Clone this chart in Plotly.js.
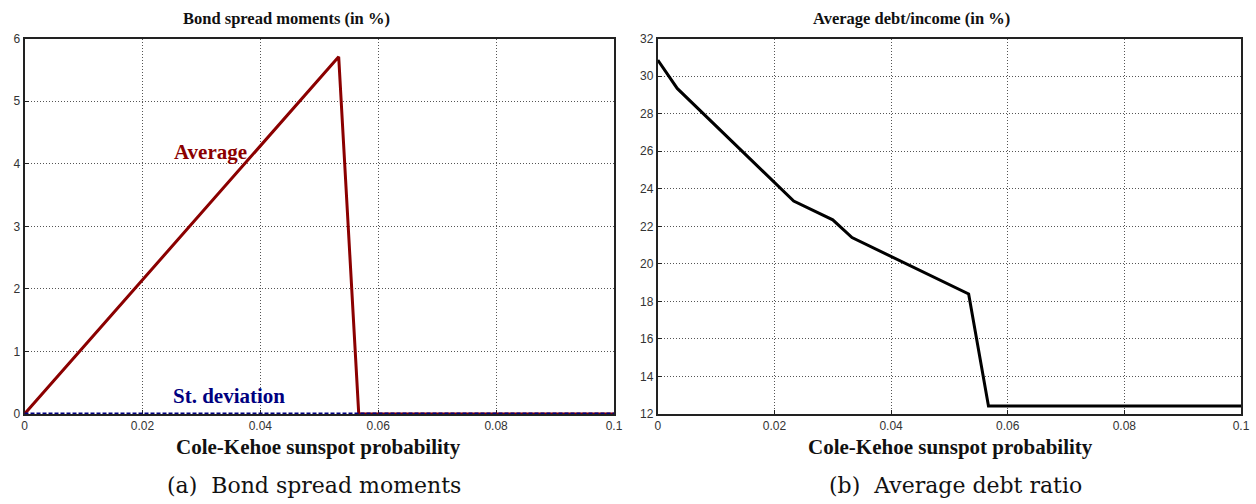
<!DOCTYPE html>
<html><head><meta charset="utf-8">
<script src="https://cdn.plot.ly/plotly-3.0.1.min.js"></script>
<style>html,body{margin:0;padding:0;background:#fff}#chart{width:1256px;height:504px}</style>
</head><body><div id="chart"></div>
<script>
// Panel (a): bond spread moments (in %)
const spreadX = [0, 0.0533, 0.0567, 0.1];
const spreadAvg = [0, 5.71, 0, 0];
const stdevX = [0, 0.1];
const spreadStd = [0, 0];
// Panel (b): average debt/income (in %)
const debtX = [0, 0.00333, 0.0233, 0.03, 0.0333, 0.0533, 0.0567, 0.1];
const debtAvg = [30.86, 29.35, 23.35, 22.35, 21.4, 18.4, 12.43, 12.43];
const xTicks = [0, 0.02, 0.04, 0.06, 0.08, 0.1];
const xTickText = ['0', '0.02', '0.04', '0.06', '0.08', '0.1'];
const yTicksA = [0, 1, 2, 3, 4, 5, 6];
const yTicksB = [12, 14, 16, 18, 20, 22, 24, 26, 28, 30, 32];

const serif = 'Liberation Serif, Times New Roman, serif';
const sans = 'Liberation Sans, Arial, sans-serif';

const traces = [
  {x: spreadX, y: spreadAvg, xaxis: 'x', yaxis: 'y', mode: 'lines', cliponaxis: false, line: {color: '#8b0000', width: 3}, hoverinfo: 'skip'},
  {x: stdevX, y: spreadStd, xaxis: 'x', yaxis: 'y', mode: 'lines', cliponaxis: false, line: {color: '#000080', width: 3, dash: '4px,2px'}, hoverinfo: 'skip'},
  {x: debtX, y: debtAvg, xaxis: 'x2', yaxis: 'y2', mode: 'lines', cliponaxis: false, line: {color: '#000', width: 3}, hoverinfo: 'skip'}
];

function xax(domain, anchor) {
  return {domain: domain, anchor: anchor, range: [0, 0.1], tickvals: xTicks, ticktext: xTickText,
    showgrid: true, gridcolor: '#555', griddash: '1px,2px', gridwidth: 1,
    showline: true, linecolor: '#222', linewidth: 2, mirror: true, zeroline: false,
    ticks: 'inside', ticklen: 4, tickcolor: '#222', layer: 'below traces',
    tickfont: {family: sans, size: 12, color: '#333'}, automargin: false};
}
function yax(domain, anchor, range, vals) {
  return {domain: domain, anchor: anchor, range: range, tickvals: vals,
    showgrid: true, gridcolor: '#555', griddash: '1px,2px', gridwidth: 1,
    showline: true, linecolor: '#222', linewidth: 2, mirror: true, zeroline: false,
    ticks: 'inside', ticklen: 4, tickcolor: '#222', layer: 'below traces',
    tickfont: {family: sans, size: 12, color: '#333'}, automargin: false};
}

function ann(text, x, y, font) {
  return {text: text, xref: 'paper', yref: 'paper', x: x / 1256, y: 1 - y / 504,
    xanchor: 'center', yanchor: 'middle', showarrow: false, font: font};
}

const yd = [1 - 414/504, 1 - 38.7/504];
const layout = {
  width: 1256, height: 504, showlegend: false,
  margin: {l: 0, r: 0, t: 0, b: 0},
  paper_bgcolor: '#fff', plot_bgcolor: '#fff',
  xaxis: xax([24.5/1256, 614/1256], 'y'),
  yaxis: yax(yd, 'x', [0, 6], yTicksA),
  xaxis2: xax([657.8/1256, 1241/1256], 'y2'),
  yaxis2: yax(yd, 'x2', [12, 32], yTicksB),
  annotations: [
    ann('<b>Bond spread moments (in %)</b>', 286, 19, {family: serif, size: 16.5, color: '#111'}),
    ann('<b>Average debt/income (in %)</b>', 911, 19, {family: serif, size: 16.5, color: '#111'}),
    ann('<b>Cole-Kehoe sunspot probability</b>', 318, 447, {family: serif, size: 21, color: '#111'}),
    ann('<b>Cole-Kehoe sunspot probability</b>', 950, 447, {family: serif, size: 21, color: '#111'}),
    ann('(a)  Bond spread moments', 314, 485, {family: 'DejaVu Serif, serif', size: 22, color: '#111'}),
    ann('(b)  Average debt ratio', 955, 485, {family: 'DejaVu Serif, serif', size: 22, color: '#111'}),
    {text: '<b>Average</b>', xref: 'x', yref: 'y', x: 0.0315, y: 4.19, xanchor: 'center', yanchor: 'middle', showarrow: false, font: {family: serif, size: 21, color: '#8b0000'}},
    {text: '<b>St. deviation</b>', xref: 'x', yref: 'y', x: 0.0347, y: 0.29, xanchor: 'center', yanchor: 'middle', showarrow: false, font: {family: serif, size: 21, color: '#000080'}}
  ]
};
Plotly.newPlot('chart', traces, layout, {staticPlot: true, displayModeBar: false});
</script></body></html>
